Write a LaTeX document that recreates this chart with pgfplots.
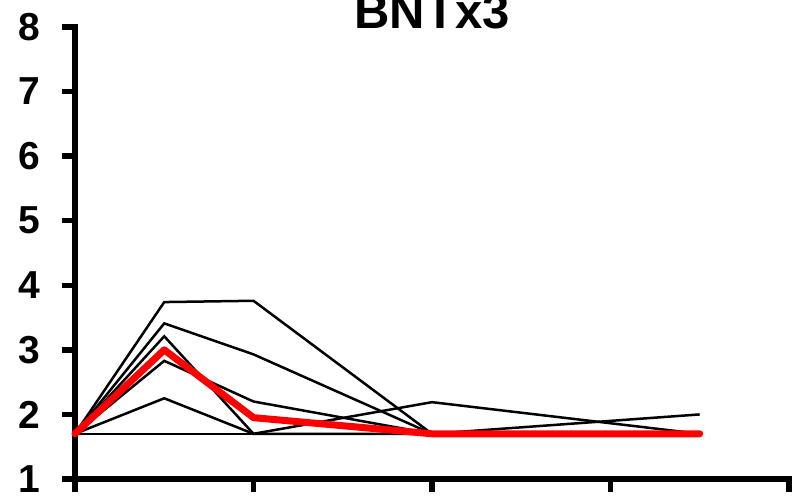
\documentclass[border=0pt]{standalone}
\usepackage{pgfplots}
\pgfplotsset{compat=1.18}
\usepackage{fontspec}
\setmainfont{Liberation Sans}
\begin{document}
\begin{tikzpicture}
\begin{axis}[
  at={(0,0)}, anchor=south west,
  scale only axis, width=714pt, height=452pt,
  xmin=0, xmax=8, ymin=1, ymax=8,
  axis lines*=left,
  axis line style={line width=6pt, line cap=rect},
  xtick={0,2,4,6,8}, xticklabels={},
  ytick={1,2,...,8},
  tick align=outside,
  major tick length=13pt,
  every tick/.style={black, line width=5.5pt},
  /pgf/number format/assume math mode=true,
  yticklabel style={font=\fontsize{39}{42}\selectfont\bfseries, anchor=east, inner sep=0pt, xshift=-22pt},
  title={BNTx3},
  title style={font=\fontsize{49}{50}\selectfont\bfseries, at={(0.5,1)}, anchor=base, yshift=-7pt},
  clip=false,
]
\addplot[black, line width=2.5pt] coordinates {(0,1.7)(1,3.74)(2,3.76)(4,1.7)(7,1.7)};
\addplot[black, line width=2.5pt] coordinates {(0,1.7)(1,3.41)(2,2.93)(4,1.7)(7,1.7)};
\addplot[black, line width=2.5pt] coordinates {(0,1.7)(1,3.21)(2,1.7)(4,2.19)(7,1.7)};
\addplot[black, line width=2.5pt] coordinates {(0,1.7)(1,2.83)(2,2.2)(4,1.7)(7,1.7)};
\addplot[black, line width=2.5pt] coordinates {(0,1.7)(1,2.25)(2,1.7)(4,1.7)(7,2.0)};
\addplot[black, line width=2.5pt] coordinates {(0,1.7)(1,1.7)(2,1.7)(4,1.7)(7,1.7)};
\addplot[red, line width=7pt, line cap=round, line join=round] coordinates {(0,1.7)(1,3.0)(2,1.95)(4,1.7)(7,1.7)};
\end{axis}
\pgfresetboundingbox
\path[use as bounding box] (-75pt,-19pt) rectangle (732pt,479pt);
\end{tikzpicture}
\end{document}
